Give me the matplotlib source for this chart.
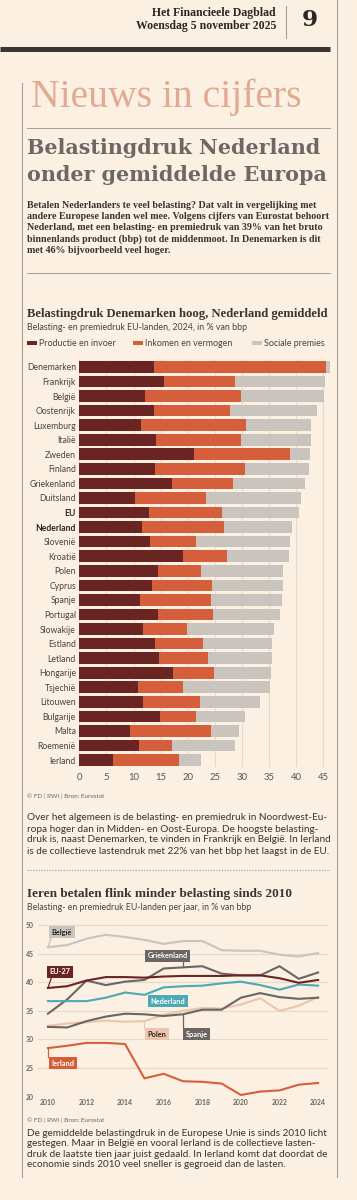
import matplotlib
matplotlib.use("Agg")
import matplotlib.pyplot as plt
from matplotlib.patches import Rectangle
from matplotlib.lines import Line2D

# ---------------------- data ----------------------
landen = ["Denemarken", "Frankrijk", "België", "Oostenrijk", "Luxemburg", "Italië",
          "Zweden", "Finland", "Griekenland", "Duitsland", "EU", "Nederland",
          "Slovenië", "Kroatië", "Polen", "Cyprus", "Spanje", "Portugal",
          "Slowakije", "Estland", "Letland", "Hongarije", "Tsjechië", "Litouwen",
          "Bulgarije", "Malta", "Roemenië", "Ierland"]
productie = [13.8, 15.6, 12.2, 13.8, 11.4, 14.2, 21.1, 14.0, 17.1, 10.3, 12.8, 11.5,
             13.0, 19.2, 14.6, 13.5, 11.2, 14.5, 11.7, 14.0, 14.7, 17.3, 10.8, 11.7,
             14.8, 9.3, 11.1, 6.3]
inkomen = [31.7, 13.2, 17.6, 14.0, 19.3, 15.7, 17.7, 16.5, 11.2, 13.1, 13.6, 15.2,
           8.6, 8.0, 7.8, 11.0, 13.0, 10.2, 8.1, 8.9, 9.1, 7.6, 8.4, 10.5,
           6.8, 15.0, 6.0, 12.1]
sociaal = [0.7, 16.5, 15.4, 16.0, 12.1, 12.8, 3.7, 11.8, 13.3, 17.5, 14.1, 12.6,
           17.2, 11.4, 15.2, 13.1, 13.2, 12.4, 16.1, 12.6, 11.7, 10.5, 15.9, 11.1,
           8.9, 5.1, 11.7, 4.1]

jaren = list(range(2010, 2025))
belgie = [46.1, 46.5, 47.6, 48.3, 47.9, 47.4, 46.7, 47.2, 47.2, 45.6, 45.5, 45.5, 44.8, 44.5, 45.1]
griekenland = [34.5, 37.0, 40.3, 39.5, 40.1, 40.4, 42.4, 42.6, 42.8, 41.5, 41.2, 41.2, 42.8, 40.6, 41.7]
eu27 = [39.0, 39.3, 40.3, 40.9, 40.9, 40.8, 41.0, 41.1, 41.1, 41.1, 41.2, 41.2, 40.7, 39.9, 40.4]
nederland = [36.7, 36.7, 36.7, 37.3, 38.2, 37.8, 39.1, 39.3, 39.4, 39.8, 40.1, 39.5, 38.7, 39.6, 39.4]
polen = [32.4, 32.8, 33.0, 33.3, 33.1, 33.2, 34.3, 35.0, 35.5, 35.4, 36.1, 37.2, 35.0, 35.9, 37.4]
spanje = [32.2, 32.1, 33.2, 34.0, 34.5, 34.4, 34.1, 34.4, 35.2, 35.2, 37.3, 38.1, 37.4, 37.1, 37.3]
ierland = [28.5, 28.9, 29.4, 29.4, 29.2, 23.2, 24.0, 22.7, 22.6, 22.3, 20.3, 20.9, 21.1, 22.1, 22.4]

# ---------------------- style ----------------------
W, H = 357, 1200
BG = "#FBF0E2"
MAROON = "#6A2522"
ORANJE = "#D65F3B"
GRIJS = "#C9C4BE"
DONKERGRIJS = "#6B6664"
TEAL = "#4AAAB5"
PERZIK = "#EDC5AC"
TEKST = "#3A3330"
GRID = "#E4D9CA"
LIJN = "#A89E95"
SERIF = "DejaVu Serif"
SERIF2 = "Liberation Serif"
SANS = "Lato"

fig = plt.figure(figsize=(W / 100, H / 100), dpi=100)
fig.patch.set_facecolor(BG)
renderer = fig.canvas.get_renderer()


def fx(x):
    return x / W


def fy(y):
    return 1 - y / H


def size_for(s, width, **kw):
    # fontsize that makes the string about `width` pixels wide
    t = fig.text(0, 0, s, fontsize=10, **kw)
    w = t.get_window_extent(renderer).width
    t.remove()
    return 10 * width / w


def put(x, y, s, size, **kw):
    fig.text(fx(x), fy(y), s, fontsize=size, va="center", **kw)


def hline(y, x0, x1, **kw):
    fig.add_artist(Line2D([fx(x0), fx(x1)], [fy(y), fy(y)], transform=fig.transFigure, **kw))


def vline(x, y0, y1, **kw):
    fig.add_artist(Line2D([fx(x), fx(x)], [fy(y0), fy(y1)], transform=fig.transFigure, **kw))


# ---------------------- kop van de pagina ----------------------
s = size_for("Het Financieele Dagblad", 124, family=SERIF2, weight="bold")
put(276, 13, "Het Financieele Dagblad", s, family=SERIF2, weight="bold", ha="right", color="#2B2523")
put(276, 25.5, "Woensdag 5 november 2025", s, family=SERIF2, weight="bold", ha="right", color="#2B2523")
vline(286, 6, 38, color=LIJN, lw=0.8)
s = size_for("9", 16, family=SERIF, weight="bold")
put(310, 20, "9", s, family=SERIF, weight="bold", ha="center", color="#2B2523")
hline(49, 0, 330, color="#3B3635", lw=3.6, solid_capstyle="butt")
vline(336.5, 0, 1177, color=LIJN, lw=0.8)
vline(21.7, 83, 1177, color=LIJN, lw=0.8)

s = size_for("Nieuws in cijfers", 271, family=SERIF2)
put(31, 97, "Nieuws in cijfers", s, family=SERIF2, color="#E2AA92")
hline(128, 27, 330, color=LIJN, lw=0.7)

kop = ["Belastingdruk Nederland", "onder gemiddelde Europa"]
s = size_for(kop[0], 293, family=SERIF, weight="bold")
for i, regel in enumerate(kop):
    put(27, 148 + i * 27, regel, s, family=SERIF, weight="bold", color="#6D6864")

intro = ["Betalen Nederlanders te veel belasting? Dat valt in vergelijking met",
         "andere Europese landen wel mee. Volgens cijfers van Eurostat behoort",
         "Nederland, met een belasting- en premiedruk van 39% van het bruto",
         "binnenlands product (bbp) tot de middenmoot. In Denemarken is dit",
         "met 46% bijvoorbeeld veel hoger."]
s = size_for(intro[1], 302, family=SERIF2, weight="bold")
for i, regel in enumerate(intro):
    put(27, 205 + i * 11.3, regel, s, family=SERIF2, weight="bold", color=TEKST)
hline(273, 27, 330, color=LIJN, lw=0.7)

# ---------------------- grafiek 1: gestapelde staven ----------------------
titel1 = "Belastingdruk Denemarken hoog, Nederland gemiddeld"
s = size_for(titel1, 303, family=SERIF2, weight="bold")
put(27, 314, titel1, s, family=SERIF2, weight="bold", color=TEKST)
sub1 = "Belasting- en premiedruk EU-landen, 2024, in % van bbp"
s = size_for(sub1, 220, family=SANS)
put(27, 327, sub1, s, family=SANS, color="#4A4240")

legenda = [("Productie en invoer", MAROON, 27), ("Inkomen en vermogen", ORANJE, 133),
           ("Sociale premies", GRIJS, 252)]
for label, kleur, x in legenda:
    fig.add_artist(Rectangle((fx(x), fy(345)), 10 / W, 4 / H, transform=fig.transFigure,
                             color=kleur, lw=0))
    put(x + 12, 343, label, s, family=SANS, color="#4A4240")

ax1 = fig.add_axes([fx(79.3), fy(767.3), 250.7 / W, 407.6 / H])
ax1.set_facecolor("none")
n = len(landen)
pos = list(range(n))
links2 = [a for a in productie]
links3 = [a + b for a, b in zip(productie, inkomen)]
ax1.barh(pos, productie, height=0.8, color=MAROON, zorder=3)
ax1.barh(pos, inkomen, left=links2, height=0.8, color=ORANJE, zorder=3)
ax1.barh(pos, sociaal, left=links3, height=0.8, color=GRIJS, zorder=3)
ax1.set_xlim(0, 250.7 / 5.422)
ax1.set_ylim(n - 0.5, -0.5)
ax1.set_xticks(range(0, 50, 5))
ax1.grid(axis="x", color=GRID, lw=0.8, zorder=0)
for sp in ax1.spines.values():
    sp.set_visible(False)
s = size_for("Denemarken", 49, family=SANS)
ax1.set_yticks(pos)
ax1.set_yticklabels(landen, fontsize=s, family=SANS, color="#4A4240")
for lab in ax1.get_yticklabels():
    if lab.get_text() in ("EU", "Nederland"):
        lab.set_fontweight("bold")
        lab.set_color("#2B2523")
ax1.tick_params(axis="y", length=0, pad=2.4)
ax1.tick_params(axis="x", length=0, pad=4, labelsize=s * 1.1, labelcolor="#5A524E")
for lab in ax1.get_xticklabels():
    lab.set_family(SANS)

bron = "© FD | RWI | Bron: Eurostat"
sb = size_for(bron, 77, family=SANS)
put(27, 796, bron, sb, family=SANS, color="#6B6560")

tekst2 = ["Over het algemeen is de belasting- en premiedruk in Noordwest-Eu-",
          "ropa hoger dan in Midden- en Oost-Europa. De hoogste belasting-",
          "druk is, naast Denemarken, te vinden in Frankrijk en België. In Ierland",
          "is de collectieve lastendruk met 22% van het bbp het laagst in de EU."]
sp2 = size_for(tekst2[3], 301, family=SANS)
for i, regel in enumerate(tekst2):
    put(27, 818 + i * 11, regel, sp2, family=SANS, color=TEKST)
hline(870, 27, 330, color="#9A918A", lw=0.8, ls=(0, (1, 1.5)))

# ---------------------- grafiek 2: lijnen ----------------------
titel2 = "Ieren betalen flink minder belasting sinds 2010"
s = size_for(titel2, 267, family=SERIF2, weight="bold")
put(27, 894, titel2, s, family=SERIF2, weight="bold", color=TEKST)
sub2 = "Belasting- en premiedruk EU-landen per jaar, in % van bbp"
s = size_for(sub2, 225, family=SANS)
put(27, 907, sub2, s, family=SANS, color="#4A4240")

ax2 = fig.add_axes([fx(38), fy(1096.7), 290 / W, 171.7 / H])
ax2.set_facecolor("none")
reeksen = [(belgie, GRIJS), (polen, PERZIK), (spanje, DONKERGRIJS), (griekenland, DONKERGRIJS),
           (nederland, TEAL), (eu27, MAROON), (ierland, ORANJE)]
for waarden, kleur in reeksen:
    ax2.plot(jaren, waarden, color=kleur, lw=1.5, zorder=3, clip_on=False)
ax2.set_xlim(2010 - 10 / 19.43, 2010 + 282 / 19.43)
ax2.set_ylim(20, 50)
ax2.set_yticks(range(20, 55, 5))
ax2.set_xticks(range(2010, 2025, 2))
ax2.grid(axis="y", color=GRID, lw=0.8, zorder=0)
for sp in ax2.spines.values():
    sp.set_visible(False)
st = size_for("2010", 16, family=SANS, weight="bold")
ax2.tick_params(axis="y", length=0, pad=2.9, labelsize=st, labelcolor="#6B6560")
ax2.tick_params(axis="x", length=0, pad=2.0, labelsize=st, labelcolor="#6B6560")
for lab in ax2.get_xticklabels() + ax2.get_yticklabels():
    lab.set_family(SANS)
    lab.set_fontweight("bold")

# labels met aanwijslijntjes: (tekst, x, y, achtergrond, tekstkleur, lijn van, lijn naar)
labels = [("België", 2010.72, 48.75, GRIJS, "#2B2523", (2010.2, 48.0), (2010, 46.1)),
          ("Griekenland", 2016.2, 44.6, DONKERGRIJS, "white", (2017, 43.8), (2017, 42.6)),
          ("EU-27", 2010.64, 41.8, MAROON, "white", (2010.2, 41.0), (2010, 39.0)),
          ("Nederland", 2016.2, 36.7, TEAL, "white", None, None),
          ("Polen", 2015.66, 30.95, PERZIK, "#2B2523", (2015, 32.0), (2015, 33.2)),
          ("Spanje", 2017.72, 30.95, DONKERGRIJS, "white", (2017, 32.0), (2017, 34.4)),
          ("Ierland", 2010.77, 25.85, ORANJE, "white", (2010, 27.0), (2010, 28.5))]
sl = size_for("Griekenland", 40, family=SANS, weight="bold")
for tekst, x, y, kleur, tk, van, naar in labels:
    if van is not None:
        ax2.plot([van[0], naar[0]], [van[1], naar[1]], color=kleur, lw=0.9, zorder=4)
    ax2.text(x, y, tekst, fontsize=sl, family=SANS, weight="bold", color=tk,
             ha="center", va="center", zorder=5,
             bbox=dict(boxstyle="square,pad=0.35", fc=kleur, ec="none"))

put(27, 1120, bron, sb, family=SANS, color="#6B6560")
tekst3 = ["De gemiddelde belastingdruk in de Europese Unie is sinds 2010 licht",
          "gestegen. Maar in België en vooral Ierland is de collectieve lasten-",
          "druk de laatste tien jaar juist gedaald. In Ierland komt dat doordat de",
          "economie sinds 2010 veel sneller is gegroeid dan de lasten."]
for i, regel in enumerate(tekst3):
    put(27, 1133 + i * 10.6, regel, sp2, family=SANS, color=TEKST)

plt.savefig("out.png", dpi=100, facecolor=BG)
plt.close()
